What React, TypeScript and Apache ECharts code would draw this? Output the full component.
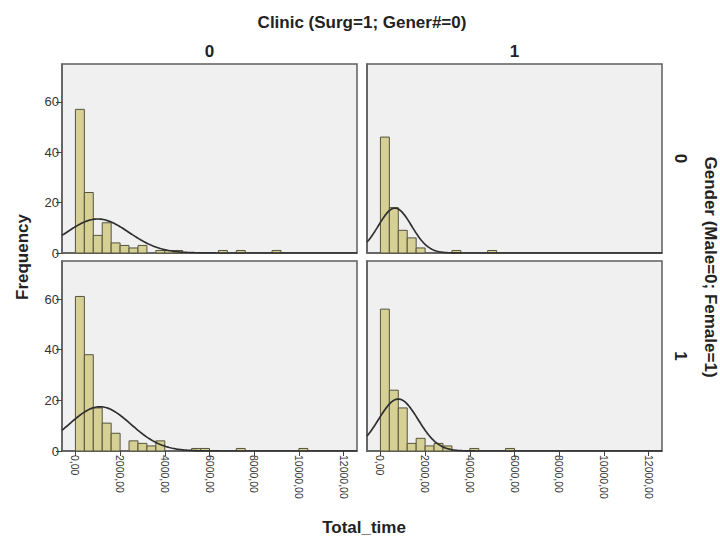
import React, { useEffect, useRef } from "react";
import * as echarts from "echarts";

// Histogram bin width (Total_time units); bins start at 0
const binWidth = 400;

// Frequencies per bin, panel = Gender row x Clinic column
const countsGender0Clinic0 = [57, 24, 7, 12, 4, 3, 2, 3, 0, 1, 1, 1, 0, 0, 0, 0, 1, 0, 1, 0, 0, 0, 1];
const countsGender0Clinic1 = [46, 18, 9, 6, 2, 0, 0, 0, 1, 0, 0, 0, 1];
const countsGender1Clinic0 = [61, 38, 17, 11, 7, 0, 4, 3, 2, 4, 0, 0, 0, 1, 1, 0, 0, 0, 1, 0, 0, 0, 0, 0, 0, 1];
const countsGender1Clinic1 = [56, 24, 17, 3, 5, 2, 3, 2, 0, 0, 1, 0, 0, 0, 1];

// Normal curve parameters (mean, std. dev.) per panel
const meansPerPanel = [1000, 650, 1100, 800];
const sdsPerPanel = [1395, 744, 1380, 887];

// Axis ticks
const xTickValues = [0, 2000, 4000, 6000, 8000, 10000, 12000];
const yTickValues = [0, 20, 40, 60];

const columnLabels = ["0", "1"];
const rowLabels = ["0", "1"];

const FONT = 'Arial, "Liberation Sans", sans-serif';
const BAR_FILL = "#d6d094";
const BAR_STROKE = "#55543f";
const PANEL_BG = "#f0f0f0";
const PANEL_BORDER = "#5e5e5e";

const panels = [
  { counts: countsGender0Clinic0, left: 62, top: 64, height: 189, row: 0, col: 0 },
  { counts: countsGender0Clinic1, left: 367, top: 64, height: 189, row: 0, col: 1 },
  { counts: countsGender1Clinic0, left: 62, top: 261, height: 190, row: 1, col: 0 },
  { counts: countsGender1Clinic1, left: 367, top: 261, height: 190, row: 1, col: 1 },
];
const PANEL_W = 295;
const X_MIN = -600;
const X_MAX = 12600;
const Y_MAX = 75;

function normalCurve(counts: number[], mean: number, sd: number) {
  const n = counts.reduce((a, b) => a + b, 0);
  const pts: number[][] = [];
  for (let x = X_MIN; x <= X_MAX; x += 50) {
    const z = (x - mean) / sd;
    const y = (n * binWidth) / (sd * Math.sqrt(2 * Math.PI)) * Math.exp(-0.5 * z * z);
    pts.push([x, y]);
  }
  return pts;
}

export default function App() {
  const ref = useRef<HTMLDivElement>(null);
  useEffect(() => {
    if (!ref.current) return;
    const chart = echarts.init(ref.current, null, { renderer: "svg" });

    const grids = panels.map((p) => ({
      left: p.left,
      top: p.top,
      width: PANEL_W,
      height: p.height,
      show: true,
      backgroundColor: PANEL_BG,
      borderColor: PANEL_BORDER,
      borderWidth: 1.5,
      containLabel: false,
    }));

    const xAxes = panels.map((p, i) => ({
      type: "value",
      gridIndex: i,
      min: X_MIN,
      max: X_MAX,
      axisLine: { show: true, onZero: false, lineStyle: { color: PANEL_BORDER, width: 1.5 } },
      axisTick: {
        show: p.row === 1,
        customValues: xTickValues,
        length: 5,
        lineStyle: { color: "#444" },
      },
      axisLabel: {
        show: p.row === 1,
        customValues: xTickValues,
        rotate: -90,
        margin: 4,
        fontSize: 10.5,
        fontFamily: FONT,
        color: "#333",
        formatter: (v: number) => v.toFixed(2).replace(".", ","),
      },
      splitLine: { show: false },
    }));

    const yAxes = panels.map((p, i) => ({
      type: "value",
      gridIndex: i,
      min: 0,
      max: Y_MAX,
      axisLine: { show: true, onZero: false, lineStyle: { color: PANEL_BORDER, width: 1.5 } },
      axisTick: {
        show: p.col === 0,
        customValues: yTickValues,
        length: 6,
        lineStyle: { color: "#444" },
      },
      axisLabel: {
        show: p.col === 0,
        customValues: yTickValues,
        margin: 3,
        fontSize: 13,
        fontFamily: FONT,
        color: "#333",
      },
      splitLine: { show: false },
    }));

    const series: any[] = [];
    panels.forEach((p, i) => {
      series.push({
        type: "custom",
        xAxisIndex: i,
        yAxisIndex: i,
        encode: { x: [0, 1], y: 2 },
        data: p.counts
          .map((c, k) => [k * binWidth, (k + 1) * binWidth, c])
          .filter((d) => d[2] > 0),
        renderItem: (params: any, api: any) => {
          const x0 = api.value(0);
          const x1 = api.value(1);
          const c = api.value(2);
          const p0 = api.coord([x0, c]);
          const p1 = api.coord([x1, 0]);
          return {
            type: "rect",
            shape: { x: p0[0], y: p0[1], width: p1[0] - p0[0], height: p1[1] - p0[1] },
            style: { fill: BAR_FILL, stroke: BAR_STROKE, lineWidth: 1 },
          };
        },
        z: 2,
      });
      series.push({
        type: "line",
        xAxisIndex: i,
        yAxisIndex: i,
        data: normalCurve(p.counts, meansPerPanel[i], sdsPerPanel[i]),
        showSymbol: false,
        symbol: "none",
        lineStyle: { color: "#2e2e2e", width: 1.7 },
        z: 3,
        clip: true,
      });
    });

    const titleStyle = { fontFamily: FONT, fontWeight: "bold", fontSize: 17, fill: "#222" };
    const graphic: any[] = [
      {
        type: "text",
        x: 362,
        y: 22,
        style: { ...titleStyle, text: "Clinic (Surg=1; Gener#=0)", align: "center", verticalAlign: "middle" },
      },
      ...columnLabels.map((t, i) => ({
        type: "text",
        x: panels[i].left + PANEL_W / 2,
        y: 51,
        style: { ...titleStyle, text: t, align: "center", verticalAlign: "middle" },
      })),
      ...rowLabels.map((t, i) => ({
        type: "text",
        x: 680,
        y: panels[i * 2].top + panels[i * 2].height / 2,
        rotation: -Math.PI / 2,
        style: { ...titleStyle, text: t, align: "center", verticalAlign: "middle" },
      })),
      {
        type: "text",
        x: 710,
        y: 267,
        rotation: -Math.PI / 2,
        style: { ...titleStyle, text: "Gender (Male=0; Female=1)", align: "center", verticalAlign: "middle" },
      },
      {
        type: "text",
        x: 22,
        y: 257,
        rotation: Math.PI / 2,
        style: { ...titleStyle, text: "Frequency", align: "center", verticalAlign: "middle" },
      },
      {
        type: "text",
        x: 364,
        y: 527,
        style: { ...titleStyle, text: "Total_time", align: "center", verticalAlign: "middle" },
      },
    ];

    chart.setOption({
      animation: false,
      backgroundColor: "#ffffff",
      grid: grids,
      xAxis: xAxes,
      yAxis: yAxes,
      series,
      graphic,
    });
    return () => chart.dispose();
  }, []);

  return (
    <div
      ref={ref}
      style={{ position: "absolute", left: 0, top: 0, width: 720, height: 536 }}
    />
  );
}
